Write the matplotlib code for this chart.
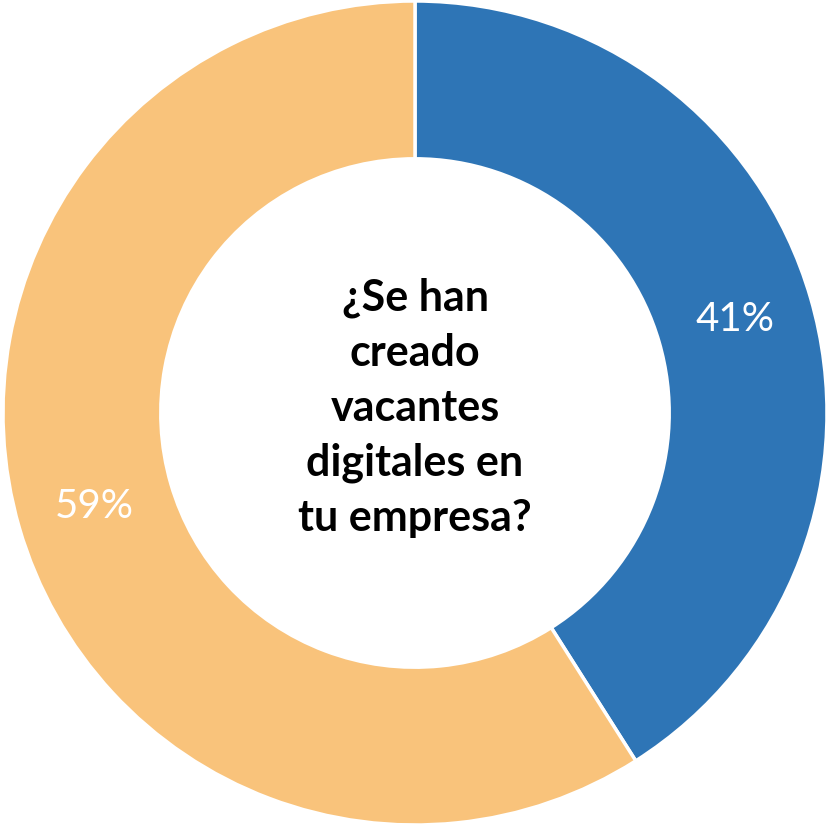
import matplotlib
matplotlib.use('Agg')
import matplotlib.pyplot as plt

# donut data
labels = ['Sí', 'No']
values = [41, 59]
colors = ['#2E75B6', '#F9C37B']
center_text = '¿Se han\ncreado\nvacantes\ndigitales en\ntu empresa?'

fig = plt.figure(figsize=(8.3, 8.25), dpi=100)
ax = fig.add_axes([0, 0, 1, 1])

wedges, texts, autotexts = ax.pie(values, colors=colors, startangle=90, counterclock=False,
                                  autopct='%1.0f%%', pctdistance=0.81,
                                  wedgeprops=dict(width=0.383, edgecolor='white', linewidth=2.5),
                                  textprops=dict(color='white', fontsize=29, family='Lato'))

ax.text(0, 0.012, center_text, ha='center', va='center', fontsize=31, fontweight='bold',
        family='Lato', linespacing=1.45)

ax.set_xlim(-415 / 412, 415 / 412)
ax.set_ylim(-412 / 412, 413 / 412)
ax.set_aspect('equal')
ax.axis('off')

fig.savefig('out.png', dpi=100)
